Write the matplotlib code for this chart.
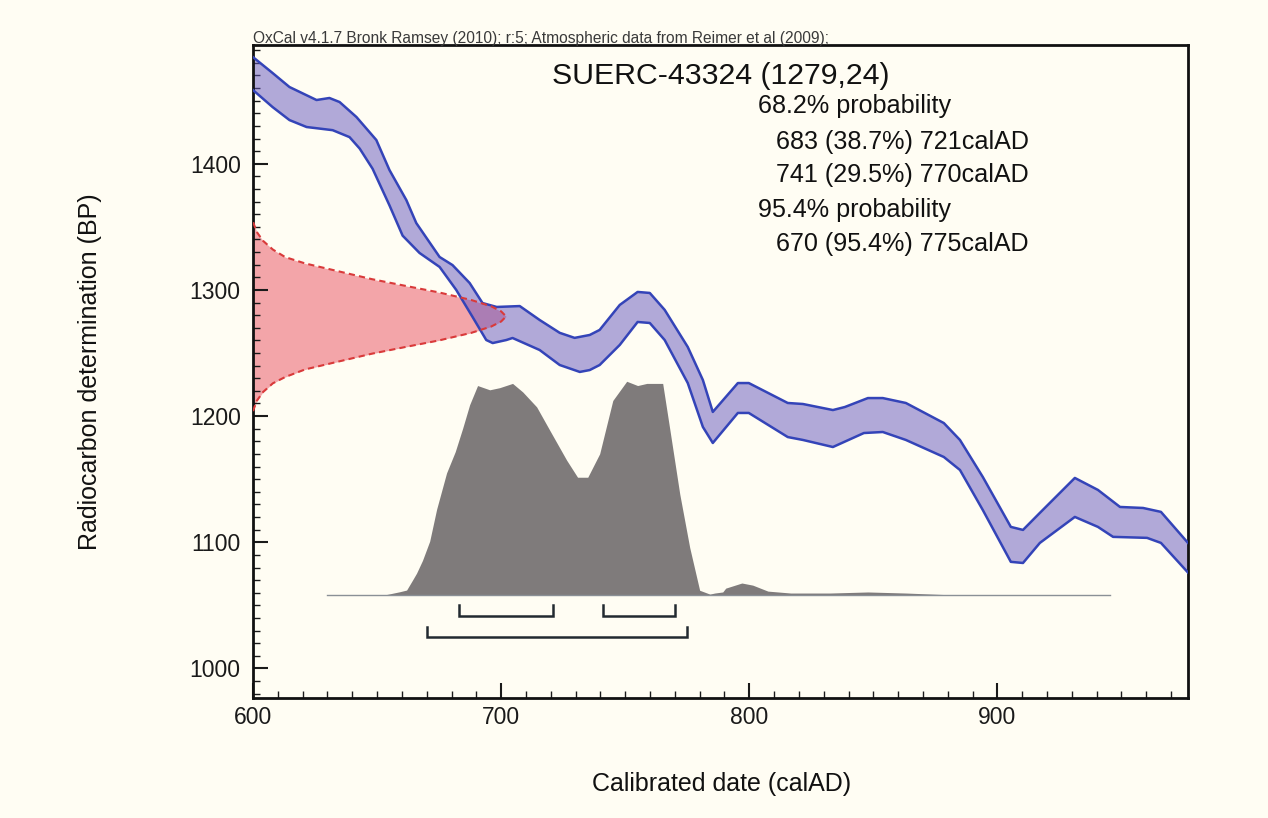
import numpy as np
import matplotlib
matplotlib.use('Agg')
import matplotlib.pyplot as plt
from matplotlib.ticker import MultipleLocator

# ---------------- data ----------------
# Calibration curve envelope (IntCal09), calAD -> BP
cal_upper_x = [600, 607.9, 614.7, 625.6, 630.8, 634.9, 641.7, 649.7, 655.0, 661.8, 665.8,
               675.2, 680.4, 687.3, 692.5, 698.2, 707.5, 715.5, 723.6, 729.6, 735.7, 739.7,
               747.8, 755.0, 759.9, 765.9, 775.2, 781.3, 785.3, 795.4, 799.8, 815.5, 821.6,
               833.7, 838.5, 847.8, 853.8, 863.1, 878.4, 884.9, 894.1, 905.4, 910.3, 917.1,
               931.2, 940.5, 949.4, 958.7, 965.9, 976.8]
cal_upper_y = [1484.5, 1471.9, 1460.8, 1450.5, 1452.1, 1448.9, 1437.0, 1418.8, 1395.0, 1371.2, 1353.0,
               1326.1, 1319.7, 1305.5, 1289.6, 1286.5, 1287.2, 1276.2, 1266.0, 1262.0, 1264.3, 1268.3,
               1288.1, 1298.4, 1297.6, 1284.2, 1254.8, 1228.6, 1203.3, 1226.2, 1226.2, 1210.4, 1209.6,
               1204.8, 1207.2, 1214.3, 1214.3, 1210.4, 1194.5, 1181.1, 1151.8, 1112.2, 1109.8, 1123.3,
               1151.0, 1141.5, 1128.0, 1127.2, 1124.1, 1099.5]
cal_lower_x = [600, 607.9, 614.7, 621.6, 632.1, 638.9, 643.0, 648.2, 655.0, 660.3,
               667.1, 675.2, 681.9, 688.5, 694.0, 696.6, 702.1, 704.6, 715.5, 723.6, 731.7,
               735.7, 739.7, 747.8, 755.0, 759.9, 765.9, 775.2, 781.3, 785.3, 795.4, 799.8,
               815.5, 821.6, 833.7, 846.2, 853.8, 863.1, 878.4, 884.9, 894.1, 905.4, 910.3,
               917.1, 931.2, 940.5, 946.6, 960.3, 965.9, 976.8]
cal_lower_y = [1458.4, 1444.9, 1434.6, 1429.1, 1426.6, 1421.1, 1412.0, 1396.0, 1367.0, 1343.0,
               1329.3, 1318.2, 1300.0, 1278.5, 1260.3, 1257.9, 1260.3, 1261.9, 1252.4, 1240.5, 1235.0,
               1236.5, 1240.5, 1256.4, 1274.6, 1273.8, 1260.3, 1226.2, 1191.4, 1178.7, 1202.5, 1202.5,
               1183.4, 1181.1, 1175.5, 1186.6, 1187.4, 1181.1, 1167.6, 1157.3, 1125.6, 1084.5, 1083.6,
               1099.5, 1120.1, 1112.2, 1104.3, 1103.5, 1099.5, 1076.0]

# Radiocarbon measurement distribution: BP value -> drawn width (years)
meas_bp = [1204, 1212, 1219, 1226, 1231, 1237, 1243.5, 1249.5, 1255, 1260, 1266, 1271, 1275, 1279,
           1283, 1287, 1292, 1298, 1303, 1308.5, 1314.5, 1321, 1326, 1332, 1339, 1346, 1354]
meas_w = [0, 1.5, 4, 8, 13, 21, 35, 48, 62, 75, 88, 96, 100, 102,
          100, 96, 88, 75, 62, 48, 35, 21, 13, 8, 4, 1.5, 0]

# Calibrated date probability (relative to maximum)
post_x = [630.0, 653.8, 659.1, 661.9, 664.3, 665.9, 668.3, 671.2, 674.0, 678.0, 681.5, 684.5,
          687.3, 690.5, 695.4, 699.4, 704.6, 708.7, 714.3, 719.6, 726.4, 730.8, 734.9, 739.7,
          745.0, 750.6, 755.0, 758.7, 765.1, 767.9, 772.0, 776.0, 780.0, 784.1, 786.1, 789.3,
          790.5, 797.0, 801.4, 807.5, 816.7, 832.5, 847.8, 863.1, 878.4, 945.4]
post_p = [0, 0, 0.013, 0.021, 0.068, 0.10, 0.16, 0.25, 0.40, 0.57, 0.67, 0.78,
          0.89, 0.98, 0.96, 0.97, 0.99, 0.95, 0.88, 0.77, 0.63, 0.55, 0.55, 0.66,
          0.91, 1.00, 0.98, 0.99, 0.99, 0.78, 0.47, 0.22, 0.02, 0.002, 0.007, 0.012,
          0.03, 0.054, 0.044, 0.016, 0.007, 0.007, 0.012, 0.007, 0, 0]

ranges_68 = [(683, 721), (741, 770)]
ranges_95 = [(670, 775)]

header = "OxCal v4.1.7 Bronk Ramsey (2010); r:5; Atmospheric data from Reimer et al (2009);"
title = "SUERC-43324 (1279,24)"
info_lines = ["68.2% probability", "683 (38.7%) 721calAD", "741 (29.5%) 770calAD",
              "95.4% probability", "670 (95.4%) 775calAD"]
info_indent = [False, True, True, False, True]
xlabel = "Calibrated date (calAD)"
ylabel = "Radiocarbon determination (BP)"

# ---------------- style ----------------
W, H = 1268, 818
bg = '#fffdf3'
plt.rcParams['font.family'] = ['Liberation Sans', 'DejaVu Sans']

fig = plt.figure(figsize=(W / 100, H / 100), dpi=100, facecolor=bg)
ax = fig.add_axes([253 / W, 1 - 698 / H, (1188 - 253) / W, (698 - 45) / H])
ax.set_facecolor(bg)

x0, x1 = 600, 976.8
y0, y1 = 976.6, 1494.1
ax.set_xlim(x0, x1)
ax.set_ylim(y0, y1)

# measurement distribution on the y axis
mx = x0 + np.asarray(meas_w)
ax.fill_betweenx(meas_bp, x0, mx, color='#e94f61', alpha=0.5, lw=0, zorder=1)
ax.plot(mx, meas_bp, color='#d93a3a', lw=1.5, ls=(0, (3, 2)), zorder=5)

# calibration band
poly_x = np.r_[cal_upper_x, cal_lower_x[::-1]]
poly_y = np.r_[cal_upper_y, cal_lower_y[::-1]]
ax.fill(poly_x, poly_y, color='#6557bf', alpha=0.5, lw=0, zorder=2)
ax.plot(cal_upper_x, cal_upper_y, color='#3444b8', lw=1.8, zorder=4, solid_joinstyle='round')
ax.plot(cal_lower_x, cal_lower_y, color='#3444b8', lw=1.8, zorder=4, solid_joinstyle='round')

# calibrated distribution
base = 1058.6
scale = 169.0
py = base + scale * np.asarray(post_p)
ax.fill_between(post_x, base, py, color='#7f7b7b', lw=0, zorder=3)
ax.plot([post_x[0], post_x[-1]], [base, base], color='#8a9096', lw=1.0, zorder=3)

# range brackets
def bracket(a, b, yline, ytop):
    ax.plot([a, a, b, b], [ytop, yline, yline, ytop], color='#222a30', lw=1.8,
            solid_joinstyle='miter', zorder=4)

for a, b in ranges_68:
    bracket(a, b, 1041.2, 1050.3)
for a, b in ranges_95:
    bracket(a, b, 1025.2, 1033.1)

# axes styling
for s in ax.spines.values():
    s.set_linewidth(2.0)
    s.set_color('#111111')
ax.xaxis.set_major_locator(MultipleLocator(100))
ax.xaxis.set_minor_locator(MultipleLocator(10))
ax.yaxis.set_major_locator(MultipleLocator(100))
ax.yaxis.set_minor_locator(MultipleLocator(10))
ax.tick_params(which='both', direction='in', top=False, right=False, colors='#1a1a1a')
ax.tick_params(which='major', length=11, width=1.5, labelsize=16.5)
ax.tick_params(which='minor', length=5, width=1.0)
ax.tick_params(axis='x', which='major', pad=6.0)
ax.tick_params(axis='y', which='major', pad=8.9)
ax.set_yticks([1000, 1100, 1200, 1300, 1400])
ax.set_xticks([600, 700, 800, 900])

# texts
def ft(x, y, s, **kw):
    fig.text(x / W, 1 - y / H, s, **kw)

ft(253, 43, header, fontsize=11.2, color='#3a3a3a', va='baseline', ha='left')
ft(552, 84, title, fontsize=21.8, color='#111111', va='baseline', ha='left')
ys = [113, 149, 182, 217, 251]
for s, ind, yy in zip(info_lines, info_indent, ys):
    ft(776 if ind else 758, yy, s, fontsize=18.1, color='#111111', va='baseline', ha='left')

ft(721.7, 791, xlabel, fontsize=18, color='#111111', va='baseline', ha='center')
ft(90, 372, ylabel, fontsize=18, color='#111111', va='center', ha='center', rotation=90)

fig.savefig('out.png', dpi=100, facecolor=bg)
